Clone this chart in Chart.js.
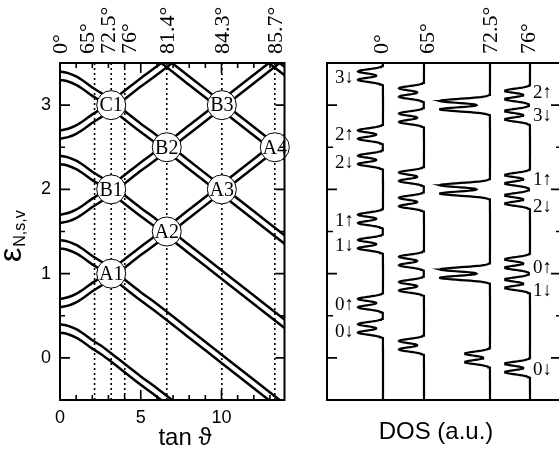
<!DOCTYPE html>
<html><head><meta charset="utf-8">
<script src="https://cdn.jsdelivr.net/npm/chart.js@4.4.1/dist/chart.umd.min.js"></script>
<style>
html,body{margin:0;padding:0;background:#fff;overflow:hidden;width:559px;height:452px;}
#c1{position:absolute;left:0;top:0;}
#c2{position:absolute;left:300px;top:0;}
</style></head><body>
<canvas id="c1" width="300" height="452"></canvas>
<canvas id="c2" width="270" height="452"></canvas>
<script>
// ================= DATA =================
// x samples (tan theta) for the level fan
const tanTheta = [0, 0.5, 1, 1.5, 2, 2.5, 3, 4, 5, 6, 8, 10, 12, 14];
// energy levels eps_{N,s,v} (dn = spin down branch, up = spin up branch, A/B = valley pair)
const eps0dnA = [0.30, 0.28, 0.24, 0.18, 0.11, 0.05, -0.02, -0.17, -0.32, -0.46, -0.76, -1.06, -1.36, -1.66];
const eps0dnB = [0.40, 0.38, 0.34, 0.28, 0.21, 0.15, 0.08, -0.07, -0.22, -0.36, -0.66, -0.96, -1.26, -1.56];
const eps1dnA = [1.30, 1.28, 1.24, 1.18, 1.11, 1.05, 0.98, 0.83, 0.68, 0.54, 0.24, -0.06, -0.36, -0.66];
const eps1dnB = [1.40, 1.38, 1.34, 1.28, 1.21, 1.15, 1.08, 0.93, 0.78, 0.64, 0.34, 0.04, -0.26, -0.56];
const eps2dnA = [2.30, 2.28, 2.24, 2.18, 2.11, 2.05, 1.98, 1.83, 1.68, 1.54, 1.24, 0.94, 0.64, 0.34];
const eps2dnB = [2.40, 2.38, 2.34, 2.28, 2.21, 2.15, 2.08, 1.93, 1.78, 1.64, 1.34, 1.04, 0.74, 0.44];
const eps3dnA = [3.30, 3.28, 3.24, 3.18, 3.11, 3.05, 2.98, 2.83, 2.68, 2.54, 2.24, 1.94, 1.64, 1.34];
const eps3dnB = [3.40, 3.38, 3.34, 3.28, 3.21, 3.15, 3.08, 2.93, 2.78, 2.64, 2.34, 2.04, 1.74, 1.44];
const eps4dnA = [4.30, 4.28, 4.24, 4.18, 4.11, 4.05, 3.98, 3.83, 3.68, 3.54, 3.24, 2.94, 2.64, 2.34];
const eps4dnB = [4.40, 4.38, 4.34, 4.28, 4.21, 4.15, 4.08, 3.93, 3.78, 3.64, 3.34, 3.04, 2.74, 2.44];
const eps5dnA = [5.30, 5.28, 5.24, 5.18, 5.11, 5.05, 4.98, 4.83, 4.68, 4.54, 4.24, 3.94, 3.64, 3.34];
const eps5dnB = [5.40, 5.38, 5.34, 5.28, 5.21, 5.15, 5.08, 4.93, 4.78, 4.64, 4.34, 4.04, 3.74, 3.44];
const eps0upA = [0.60, 0.62, 0.66, 0.72, 0.79, 0.85, 0.92, 1.07, 1.22, 1.36, 1.66, 1.96, 2.26, 2.56];
const eps0upB = [0.70, 0.72, 0.76, 0.82, 0.89, 0.95, 1.02, 1.17, 1.32, 1.46, 1.76, 2.06, 2.36, 2.66];
const eps1upA = [1.60, 1.62, 1.66, 1.72, 1.79, 1.85, 1.92, 2.07, 2.22, 2.36, 2.66, 2.96, 3.26, 3.56];
const eps1upB = [1.70, 1.72, 1.76, 1.82, 1.89, 1.95, 2.02, 2.17, 2.32, 2.46, 2.76, 3.06, 3.36, 3.66];
const eps2upA = [2.60, 2.62, 2.66, 2.72, 2.79, 2.85, 2.92, 3.07, 3.22, 3.36, 3.66, 3.96, 4.26, 4.56];
const eps2upB = [2.70, 2.72, 2.76, 2.82, 2.89, 2.95, 3.02, 3.17, 3.32, 3.46, 3.76, 4.06, 4.36, 4.66];

// coincidence points
const crossNames = ['A1', 'B1', 'C1', 'A2', 'B2', 'A3', 'B3', 'A4'];
const crossTan   = [3.17, 3.17, 3.17, 6.61, 6.61, 10.02, 10.02, 13.30];
const crossEps   = [1.0, 2.0, 3.0, 1.5, 2.5, 2.0, 3.0, 2.5];

// tilt angles (top labels) and their tan values
const angleLabels = ['0°', '65°', '72.5°', '76°', '81.4°', '84.3°', '85.7°'];
const angleTan    = [0, 2.14, 3.17, 4.01, 6.61, 10.02, 13.30];

// axis ticks
const yTickLabels = [0, 1, 2, 3];
const yMinorTicks = [0.5, 1.5, 2.5];
const xTickLabels = [0, 5, 10];
const xMinorTicks = [1, 2, 3, 4, 6, 7, 8, 9, 11, 12, 13];

// DOS panel: peak energies of each trace (coincident levels listed twice)
const dosAngles  = ['0°', '65°', '72.5°', '76°'];
const dosPeaks0  = [0.30, 0.40, 0.60, 0.70, 1.30, 1.40, 1.60, 1.70, 2.30, 2.40, 2.60, 2.70, 3.30, 3.40];
const dosPeaks65 = [0.10, 0.20, 0.80, 0.90, 1.10, 1.20, 1.80, 1.90, 2.10, 2.20, 2.80, 2.90, 3.10, 3.20];
const dosPeaks72 = [-0.05, 0.05, 0.95, 0.95, 1.05, 1.05, 1.95, 1.95, 2.05, 2.05, 2.95, 2.95, 3.05, 3.05];
const dosPeaks76 = [-0.17, -0.07, 0.83, 0.93, 1.07, 1.17, 1.83, 1.93, 2.07, 2.17, 2.83, 2.93, 3.07, 3.17];
// level labels in the DOS panel
const dos0Labels  = ['3↓', '2↑', '2↓', '1↑', '1↓', '0↑', '0↓'];
const dos0LabelE  = [3.32, 2.64, 2.31, 1.63, 1.33, 0.63, 0.31];
const dos76Labels = ['2↑', '3↓', '1↑', '2↓', '0↑', '1↓', '0↓'];
const dos76LabelE = [3.14, 2.87, 2.11, 1.79, 1.07, 0.79, -0.14];

// ================= STYLE / LAYOUT =================
const SANS = "'Liberation Sans', Arial, Helvetica, sans-serif";
const SERIF = "'Liberation Serif', 'Times New Roman', 'DejaVu Serif', serif";
const angleNudge = [0, -8, -3, 4, 0, 0, 0];     // px shifts of crowded top labels
const dosBase = [56, 97, 163, 203];            // baseline of each DOS trace (panel units)
const dosLabelNudge = [-2, 3, 0, -2];
const dosAmp = 25, dosSigma = 0.025;

// ================= LEFT PANEL =================
const curveArrays = [eps0dnA, eps0dnB, eps1dnA, eps1dnB, eps2dnA, eps2dnB, eps3dnA, eps3dnB,
  eps4dnA, eps4dnB, eps5dnA, eps5dnB, eps0upA, eps0upB, eps1upA, eps1upB, eps2upA, eps2upB];
const curveSets = curveArrays.map(arr => ({
  data: arr.map((v, i) => ({x: tanTheta[i], y: v})),
  showLine: true, borderColor: '#000', borderWidth: 2.5, pointRadius: 0,
  cubicInterpolationMode: 'monotone', order: 1
}));
const dottedSets = angleTan.slice(1).map(t => ({
  data: [{x: t, y: -0.5}, {x: t, y: 3.5}],
  showLine: true, borderColor: '#000', borderWidth: 1.6, borderDash: [2, 3],
  pointRadius: 0, order: 2
}));
const circleSet = {
  data: crossTan.map((t, i) => ({x: t, y: crossEps[i]})),
  showLine: false, pointRadius: 14.5, pointHoverRadius: 14.5,
  pointBackgroundColor: '#fff', pointBorderColor: '#000', pointBorderWidth: 1,
  order: 0, clip: false
};

function drawTicks(ctx, area, xs, ys, vals, len, side) {
  ctx.beginPath();
  vals.forEach(v => {
    if (side === 'left') { const p = ys.getPixelForValue(v); ctx.moveTo(area.left, p); ctx.lineTo(area.left + len, p); }
    if (side === 'right') { const p = ys.getPixelForValue(v); ctx.moveTo(area.right, p); ctx.lineTo(area.right - len, p); }
    if (side === 'bottom') { const p = xs.getPixelForValue(v); ctx.moveTo(p, area.bottom); ctx.lineTo(p, area.bottom - len); }
    if (side === 'top') { const p = xs.getPixelForValue(v); ctx.moveTo(p, area.top); ctx.lineTo(p, area.top + len); }
  });
  ctx.stroke();
}
function rotText(ctx, text, x, y, font) {
  ctx.save(); ctx.translate(x, y); ctx.rotate(-Math.PI / 2);
  ctx.font = font; ctx.textAlign = 'left'; ctx.textBaseline = 'alphabetic';
  ctx.fillText(text, 0, 0); ctx.restore();
}

const leftDecor = {
  id: 'leftDecor',
  afterDatasetsDraw(chart) {
    const ctx = chart.ctx;
    const meta = chart.getDatasetMeta(chart.data.datasets.length - 1);
    ctx.save();
    ctx.fillStyle = '#000';
    ctx.font = '20px ' + SERIF;
    ctx.textAlign = 'center'; ctx.textBaseline = 'middle';
    meta.data.forEach((pt, i) => ctx.fillText(crossNames[i], pt.x, pt.y + 1));
    ctx.restore();
  },
  afterDraw(chart) {
    const ctx = chart.ctx, a = chart.chartArea, xs = chart.scales.x, ys = chart.scales.y;
    ctx.save();
    ctx.strokeStyle = '#000'; ctx.fillStyle = '#000';
    ctx.lineWidth = 2;
    ctx.strokeRect(a.left, a.top, a.right - a.left, a.bottom - a.top);
    ctx.lineWidth = 1.6;
    const major = yTickLabels.filter(v => v > -0.5 && v < 3.5);
    drawTicks(ctx, a, xs, ys, major, 10, 'left');
    drawTicks(ctx, a, xs, ys, yMinorTicks, 5, 'left');
    drawTicks(ctx, a, xs, ys, major, 9, 'right');
    drawTicks(ctx, a, xs, ys, yMinorTicks, 5, 'right');
    const xmaj = xTickLabels.filter(v => v > 0);
    drawTicks(ctx, a, xs, ys, xmaj, 10, 'bottom');
    drawTicks(ctx, a, xs, ys, xMinorTicks, 5, 'bottom');
    drawTicks(ctx, a, xs, ys, xmaj, 10, 'top');
    drawTicks(ctx, a, xs, ys, xMinorTicks, 5, 'top');
    // top angle labels
    angleLabels.forEach((lab, i) => {
      const x = xs.getPixelForValue(angleTan[i]) + angleNudge[i] + 7;
      rotText(ctx, lab, x, 54, '22px ' + SERIF);
    });
    // y title: epsilon with subscript
    ctx.save();
    ctx.translate(21, 262); ctx.rotate(-Math.PI / 2);
    ctx.font = '32px ' + SANS; ctx.textBaseline = 'alphabetic'; ctx.textAlign = 'left';
    ctx.fillText('ε', 0, 0);
    const w = ctx.measureText('ε').width;
    ctx.font = '16px ' + SANS;
    ctx.fillText('N,s,v', w + 1, 4);
    ctx.restore();
    // x title
    ctx.font = '24px ' + SANS; ctx.textAlign = 'center'; ctx.textBaseline = 'alphabetic';
    ctx.fillText('tan ϑ', 185, 445);
    ctx.restore();
  }
};

new Chart(document.getElementById('c1'), {
  type: 'scatter',
  data: {datasets: [...curveSets, ...dottedSets, circleSet]},
  options: {
    responsive: false, animation: false, devicePixelRatio: 1, events: [],
    layout: {padding: {top: 63, right: 7, left: 0, bottom: 0}},
    plugins: {legend: {display: false}, tooltip: {enabled: false}},
    scales: {
      x: {
        type: 'linear', position: 'bottom', min: 0, max: 13.9,
        grid: {display: false, drawTicks: false}, border: {display: false},
        ticks: {color: '#000', font: {family: SANS, size: 18}, padding: 7, maxRotation: 0, autoSkip: false},
        afterBuildTicks: s => { s.ticks = xTickLabels.map(v => ({value: v})); },
        afterFit: s => { s.height = 52; }
      },
      y: {
        type: 'linear', position: 'left', min: -0.5, max: 3.5,
        grid: {display: false, drawTicks: false}, border: {display: false},
        ticks: {color: '#000', font: {family: SANS, size: 18}, padding: 9},
        afterBuildTicks: s => { s.ticks = yTickLabels.map(v => ({value: v})); },
        afterFit: s => { s.width = 60; }
      }
    }
  },
  plugins: [leftDecor]
});

// ================= RIGHT PANEL (DOS) =================
function dosCurve(peaks, base) {
  const pts = [];
  for (let i = 0; i <= 1000; i++) {
    const e = -0.5 + i * 0.004;
    let s = 0;
    for (const p of peaks) { const d = (e - p) / dosSigma; s += Math.exp(-0.5 * d * d); }
    pts.push({x: base - dosAmp * s, y: e});
  }
  return pts;
}
const dosPeakSets = [dosPeaks0, dosPeaks65, dosPeaks72, dosPeaks76];
const dosSets = dosPeakSets.map((pk, k) => ({
  data: dosCurve(pk, dosBase[k]),
  showLine: true, borderColor: '#000', borderWidth: 2.2, pointRadius: 0
}));

const rightDecor = {
  id: 'rightDecor',
  afterDraw(chart) {
    const ctx = chart.ctx, a = chart.chartArea, xs = chart.scales.x, ys = chart.scales.y;
    ctx.save();
    ctx.strokeStyle = '#000'; ctx.fillStyle = '#000';
    ctx.lineWidth = 2;
    ctx.strokeRect(a.left, a.top, a.right - a.left, a.bottom - a.top);
    ctx.lineWidth = 1.6;
    drawTicks(ctx, a, xs, ys, yTickLabels, 10, 'left');
    drawTicks(ctx, a, xs, ys, yMinorTicks, 6, 'left');
    drawTicks(ctx, a, xs, ys, yTickLabels, 10, 'right');
    drawTicks(ctx, a, xs, ys, yMinorTicks, 5, 'right');
    dosAngles.forEach((lab, k) => {
      const x = xs.getPixelForValue(dosBase[k]) + dosLabelNudge[k] + 7;
      rotText(ctx, lab, x, 54, '22px ' + SERIF);
    });
    ctx.font = '19px ' + SERIF; ctx.textBaseline = 'middle';
    ctx.textAlign = 'right';
    dos0Labels.forEach((lab, i) => ctx.fillText(lab, xs.getPixelForValue(dosBase[0]) - 29, ys.getPixelForValue(dos0LabelE[i])));
    ctx.textAlign = 'left';
    dos76Labels.forEach((lab, i) => ctx.fillText(lab, xs.getPixelForValue(dosBase[3]) + 3, ys.getPixelForValue(dos76LabelE[i])));
    ctx.font = '24px ' + SANS; ctx.textAlign = 'center'; ctx.textBaseline = 'alphabetic';
    ctx.fillText('DOS (a.u.)', 136, 439);
    ctx.restore();
  }
};

new Chart(document.getElementById('c2'), {
  type: 'scatter',
  data: {datasets: dosSets},
  options: {
    responsive: false, animation: false, devicePixelRatio: 1, events: [],
    layout: {padding: {top: 63, right: 9, left: 27, bottom: 52}},
    plugins: {legend: {display: false}, tooltip: {enabled: false}},
    scales: {
      x: {type: 'linear', display: false, min: 0, max: 234},
      y: {type: 'linear', display: false, min: -0.5, max: 3.5}
    }
  },
  plugins: [rightDecor]
});
</script>
</body></html>
